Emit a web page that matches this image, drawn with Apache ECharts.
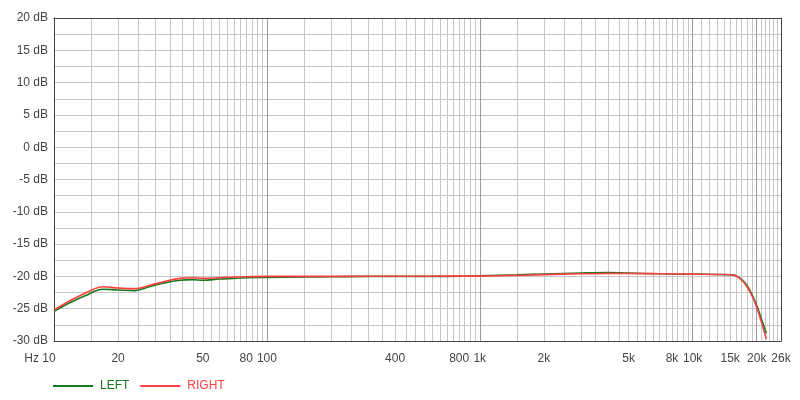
<!DOCTYPE html>
<html lang="en">
<head>
    <meta charset="UTF-8">
    <title>Frequency response</title>
    <script src="https://cdn.jsdelivr.net/npm/echarts@6/dist/echarts.min.js"></script>
    <style>
        html, body { margin: 0; padding: 0; background: #fff; }
    </style>
</head>
<body>
<div id="main" style="width:800px;height:400px;"></div>
<script type="text/javascript">
    // frequencies (Hz) and the level of each channel (dB)
    var FREQ     = [10, 12, 14, 17, 20, 24, 28, 33, 39, 45, 50, 60, 70, 80, 100, 150, 200, 300, 500, 700,
                    1000, 1500, 2000, 3000, 4000, 5000, 7000, 10000, 13000, 15000, 16000, 17000, 18000,
                    19000, 20000, 21000, 22200];
    var LEFT_DB  = [-25.4, -24.0, -23.0, -22.0, -22.1, -22.2, -21.6, -21.0, -20.6, -20.5, -20.6, -20.4,
                    -20.3, -20.2, -20.15, -20.1, -20.05, -20.0, -20.0, -20.0, -19.9, -19.75, -19.62,
                    -19.48, -19.42, -19.5, -19.6, -19.65, -19.7, -19.75, -19.9, -20.5, -21.4, -22.8,
                    -24.5, -26.5, -28.8];
    var RIGHT_DB = [-25.2, -23.7, -22.6, -21.6, -21.8, -21.9, -21.4, -20.8, -20.3, -20.2, -20.3, -20.2,
                    -20.1, -20.05, -20.0, -20.0, -20.0, -19.98, -19.97, -19.96, -19.95, -19.85, -19.72,
                    -19.6, -19.55, -19.55, -19.6, -19.65, -19.7, -19.75, -19.95, -20.6, -21.6, -23.0,
                    -24.8, -27.0, -29.7];

    // tick labels and grid lines of the frequency axis
    var FREQ_LABELS = [10, 20, 50, 80, 100, 400, 800, 1000, 2000, 5000, 8000, 10000, 15000, 20000, 26000];
    var GRID_LIGHT = [15, 20, 25, 30, 35, 40, 45, 50, 55, 60, 65, 70, 75, 80, 85, 90, 95,
                      150, 200, 250, 300, 350, 400, 450, 500, 550, 600, 650, 700, 750, 800, 850, 900, 950,
                      1500, 2000, 2500, 3000, 3500, 4000, 4500, 5000, 5500, 6000, 6500, 7000, 7500, 8000,
                      8500, 9000, 9500,
                      11000, 12000, 13000, 14000, 15000, 16000, 17000, 18000, 19000,
                      21000, 22000, 23000, 24000, 25000];
    var GRID_DARK = [100, 1000, 10000, 20000];

    var F_MIN = 10, F_MAX = 26000;
    var GREEN = '#17791f', RED = '#ff4040';
    var FONT = 'Liberation Sans, Arial, sans-serif';

    function pairs(xs, ys) {
        var out = [];
        for (var i = 0; i < xs.length; i++) {
            out.push([xs[i], ys[i]]);
        }
        return out;
    }

    function freqLabel(v) {
        if (v === 10) return '{hz|Hz 10}';
        return v >= 1000 ? (v / 1000) + 'k' : String(v);
    }

    var myChart = echarts.init(document.getElementById('main'));

    myChart.setOption({
        animation: false,
        textStyle: { fontFamily: FONT },
        grid: { left: 54, right: 19, top: 18, bottom: 59 },
        legend: {
            left: 48,
            top: 375,
            icon: 'rect',
            itemWidth: 40,
            itemHeight: 2,
            itemGap: 11,
            textStyle: { fontSize: 12, fontFamily: FONT, padding: [0, 0, 0, 2] },
            data: [
                { name: 'LEFT', textStyle: { color: GREEN } },
                { name: 'RIGHT', textStyle: { color: RED } }
            ]
        },
        xAxis: [
            {
                // labels + light grid
                type: 'log', logBase: 10, min: F_MIN, max: F_MAX,
                axisLine: { show: true, onZero: false, lineStyle: { color: '#444' } },
                axisTick: { show: false, customValues: GRID_LIGHT },
                splitLine: { show: true, lineStyle: { color: '#c6c6c6', width: 1 } },
                axisLabel: {
                    customValues: FREQ_LABELS,
                    formatter: freqLabel,
                    color: '#444', fontSize: 12, margin: 12,
                    rich: { hz: { fontSize: 12, color: '#444', padding: [0, 28, 0, 0] } }
                }
            },
            {
                // decade lines, darker
                type: 'log', logBase: 10, min: F_MIN, max: F_MAX,
                position: 'bottom',
                axisLine: { show: false, onZero: false },
                axisTick: { show: false, customValues: GRID_DARK },
                axisLabel: { show: false },
                splitLine: { show: true, lineStyle: { color: '#9a9a9a', width: 1 } }
            },
            {
                // top frame
                type: 'log', logBase: 10, min: F_MIN, max: F_MAX,
                position: 'top', z: 3,
                axisLine: { show: true, onZero: false, lineStyle: { color: '#444' } },
                axisTick: { show: false },
                axisLabel: { show: false },
                splitLine: { show: false }
            }
        ],
        yAxis: [
            {
                type: 'value', min: -30, max: 20, interval: 2.5,
                axisLine: { show: true, onZero: false, lineStyle: { color: '#444' } },
                axisTick: { show: false },
                axisLabel: {
                    color: '#444', fontSize: 12, margin: 6,
                    formatter: function (v) { return v % 5 === 0 ? v + ' dB' : ''; }
                },
                splitLine: { show: true, lineStyle: { color: '#c6c6c6', width: 1 } }
            },
            {
                // right frame
                type: 'value', min: -30, max: 20, interval: 5,
                position: 'right', z: 3,
                axisLine: { show: true, onZero: false, lineStyle: { color: '#444' } },
                axisTick: { show: false },
                axisLabel: { show: false },
                splitLine: { show: false }
            }
        ],
        series: [
            {
                name: 'LEFT',
                type: 'line',
                xAxisIndex: 0, yAxisIndex: 0,
                symbol: 'none',
                smooth: 0.4,
                lineStyle: { color: GREEN, width: 1.6 },
                itemStyle: { color: GREEN },
                data: pairs(FREQ, LEFT_DB)
            },
            {
                name: 'RIGHT',
                type: 'line',
                xAxisIndex: 0, yAxisIndex: 0,
                symbol: 'none',
                smooth: 0.4,
                lineStyle: { color: RED, width: 1.6 },
                itemStyle: { color: RED },
                data: pairs(FREQ, RIGHT_DB)
            }
        ]
    });
</script>
</body>
</html>
